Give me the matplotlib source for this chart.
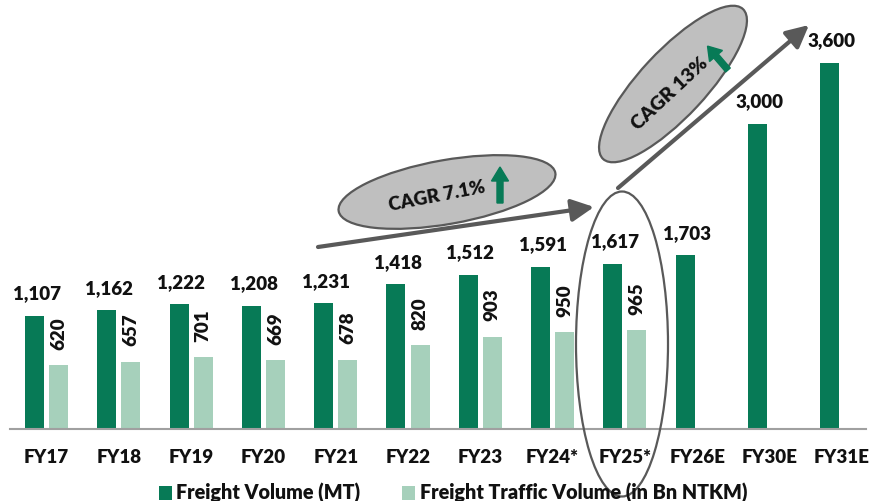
import matplotlib
matplotlib.use("Agg")
import matplotlib.pyplot as plt
from matplotlib.patches import Ellipse, Patch, FancyArrow
import numpy as np

categories = ["FY17", "FY18", "FY19", "FY20", "FY21", "FY22", "FY23", "FY24*", "FY25*", "FY26E", "FY30E", "FY31E"]
freight_volume = [1107, 1162, 1222, 1208, 1231, 1418, 1512, 1591, 1617, 1703, 3000, 3600]
traffic_volume = [620, 657, 701, 669, 678, 820, 903, 950, 965, None, None, None]

DARK = "#077a56"
LIGHT = "#a6d0bb"
GRAY = "#595959"
FONT = ["Lato", "DejaVu Sans"]
WEIGHT = 800
plt.rcParams["font.family"] = FONT
plt.rcParams["font.weight"] = WEIGHT

W, H = 869, 501
fig = plt.figure(figsize=(W / 100, H / 100), dpi=100)

# main axes
px_per_cat = 72.3
c0 = 46.5
base_py = 428.5
px_per_unit = 366 / 3600
left_px, right_px = 10, 866
ax = fig.add_axes([left_px / W, (H - base_py) / H, (right_px - left_px) / W, base_py / H])
ax.set_xlim((left_px - c0) / px_per_cat, (right_px - c0) / px_per_cat)
ax.set_ylim(0, base_py / px_per_unit)

x = np.arange(len(categories))
off = 12 / px_per_cat
bw = 19 / px_per_cat
ax.bar(x - off, freight_volume, width=bw, color=DARK, zorder=2)
tv = np.array([np.nan if v is None else v for v in traffic_volume], dtype=float)
ax.bar(x + off, tv, width=bw, color=LIGHT, zorder=2)

for xi, v in zip(x, freight_volume):
    ax.annotate(f"{v:,}", (xi - off + 0.03, v), xytext=(0, 12), textcoords="offset points",
                ha="center", va="baseline", fontsize=13.5, fontweight=WEIGHT, color="#111111")
for xi, v in zip(x, traffic_volume):
    if v is None:
        continue
    ax.annotate(f"{v:,}", (xi + off, v), xytext=(0, 11), textcoords="offset points",
                ha="center", va="bottom", rotation=90, fontsize=13.5, fontweight=WEIGHT, color="#111111")

for s in ["top", "right", "left"]:
    ax.spines[s].set_visible(False)
ax.spines["bottom"].set_color("#a0a0a0")
ax.spines["bottom"].set_linewidth(1.5)
ax.set_yticks([])
ax.set_xticks(x)
ax.set_xticklabels(categories, fontsize=13.5, fontweight=WEIGHT, color="#111111")
ax.tick_params(axis="x", length=0, pad=15)

# overlay axes in pixel units for annotations
ov = fig.add_axes([0, 0, 1, 1])
ov.set_xlim(0, W)
ov.set_ylim(H, 0)
ov.axis("off")
ov.patch.set_alpha(0)

# gray trend arrows
ap = dict(arrowstyle="-|>,head_length=0.9,head_width=0.45", lw=3, color=GRAY,
          shrinkA=0, shrinkB=0, mutation_scale=15)
ov.annotate("", xy=(594, 207), xytext=(318, 247), arrowprops=ap)
ov.annotate("", xy=(809, 25), xytext=(618, 188), arrowprops=ap)

# ellipse 1
ov.add_patch(Ellipse((447, 192), 220, 64, angle=-10, facecolor="#bfbfbf", edgecolor=GRAY, lw=1.6, zorder=3))
ov.text(437, 196, "CAGR 7.1%", rotation=11, ha="center", va="center", fontsize=13.5,
        fontweight=WEIGHT, color="#111111", zorder=4)
ov.add_patch(FancyArrow(500, 203, 0, -22, width=6, head_width=17, head_length=14,
                        length_includes_head=False, color=DARK, zorder=4))

# ellipse 2
ov.add_patch(Ellipse((673, 84), 205, 66, angle=-47, facecolor="#bfbfbf", edgecolor=GRAY, lw=1.6, zorder=3))
ov.text(670, 94, "CAGR 13%", rotation=43, ha="center", va="center", fontsize=14,
        fontweight=WEIGHT, color="#111111", zorder=4)
ov.add_patch(FancyArrow(728, 70, -12, -14, width=6, head_width=17, head_length=13,
                        length_includes_head=False, color=DARK, zorder=4))

# ellipse 3 around FY25
ov.add_patch(Ellipse((622, 344), 92, 305, angle=0, facecolor="none", edgecolor=GRAY, lw=1.6, zorder=5))

# legend
handles = [Patch(facecolor=DARK, edgecolor="none", label="Freight Volume (MT)"),
           Patch(facecolor=LIGHT, edgecolor="none", label="Freight Traffic Volume (in Bn NTKM)")]
leg = fig.legend(handles=handles, loc="center", bbox_to_anchor=(453 / W, (H - 493) / H), ncol=2,
                 frameon=False, fontsize=14.2, handlelength=0.65, handleheight=0.7,
                 handletextpad=0.25, columnspacing=2.1, borderpad=0)
for t in leg.get_texts():
    t.set_fontweight(WEIGHT)
    t.set_color("#111111")

fig.savefig("out.png", dpi=100)
